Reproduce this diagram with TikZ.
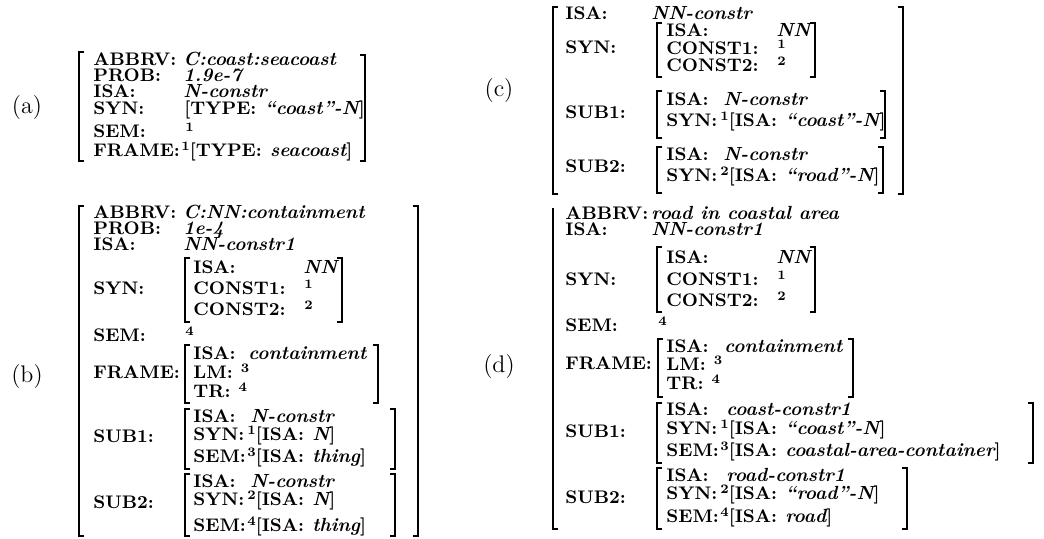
\documentclass[tikz,border=0pt]{standalone}
\begin{document}
\newcommand\tg[1]{\raisebox{0.7ex}{\fontsize{6.5}{7}\selectfont\bfseries\upshape #1}}
\newcommand\ti[1]{{\fontsize{9.5}{10}\selectfont\itshape #1}}
\newcommand\gp{\hspace{0.45em}}
\newcommand\Lbr[3]{\draw[brk] ({#1+5},#2) -- (#1,#2) -- (#1,#3) -- ({#1+5},#3);}
\newcommand\Rbr[3]{\draw[brk] ({#1-5},#2) -- (#1,#2) -- (#1,#3) -- ({#1-5},#3);}
\begin{tikzpicture}[x=0.5pt,y=-0.5pt,
  brk/.style={line width=1.3pt},
  lab/.style={anchor=base west, inner sep=0pt, font=\fontsize{9.1}{10}\selectfont\bfseries},
  val/.style={anchor=base west, inner sep=0pt, font=\fontsize{9.5}{10}\selectfont\bfseries\itshape},
  tagl/.style={anchor=center, inner sep=0pt, font=\fontsize{12}{14}\selectfont}]
\useasboundingbox (0,0) rectangle (1044,538);
% ---------------- (a)
\node[tagl] (la) at (27,108) {(a)};
\Lbr{79}{52}{161} \Rbr{365}{55}{161}
\node[lab] (a1) at (93,65) {ABBRV:}; \node[val] (a1v) at (183,65) {C:coast:seacoast};
\node[lab] (a2) at (93,81) {PROB:}; \node[val] (a2v) at (183,81) {1.9e-7};
\node[lab] (a3) at (93,97) {ISA:}; \node[val] (a3v) at (183,97) {N-constr};
\node[lab] (a4) at (93,114) {SYN:}; \node[lab] (a4v) at (184,114) {[TYPE:\gp\ti{“coast”-N}]};
\node[lab] (a5) at (93,137) {SEM:}; \node[lab] (a5v) at (185,137) {\tg{1}};
\node[lab] (a6) at (93,156) {FRAME:}; \node[lab] (a6v) at (181,156) {\tg{1}[TYPE:\gp\ti{seacoast}]};
% ---------------- (b)
\node[tagl] (lb) at (27,376) {(b)};
\Lbr{79}{206}{536} \Rbr{418}{206}{536}
\node[lab] (b1) at (93,218) {ABBRV:}; \node[val] (b1v) at (183,218) {C:NN:containment};
\node[lab] (b2) at (93,234) {PROB:}; \node[val] (b2v) at (183,234) {1e-4};
\node[lab] (b3) at (93,250) {ISA:}; \node[val] (b3v) at (183,250) {NN-constr1};
\node[lab] (b4) at (93,294) {SYN:};
\Lbr{185}{258}{322} \Rbr{342}{258}{322}
\node[lab] (b41) at (193,273) {ISA:}; \node[val] (b41v) at (303,273) {NN};
\node[lab] (b42) at (193,294) {CONST1:}; \node[lab] (b42v) at (304,294) {\tg{1}};
\node[lab] (b43) at (193,315) {CONST2:}; \node[lab] (b43v) at (304,315) {\tg{2}};
\node[lab] (b5) at (93,341) {SEM:}; \node[lab] (b5v) at (185,341) {\tg{4}};
\node[lab] (b6) at (93,378) {FRAME:};
\Lbr{185}{345}{403} \Rbr{378}{345}{403}
\node[lab] (b61) at (193,359) {ISA:}; \node[val] (b61v) at (248,359) {containment};
\node[lab] (b62) at (193,378) {LM:\gp\tg{3}};
\node[lab] (b63) at (193,397) {TR:\gp\tg{4}};
\node[lab] (b7) at (93,442) {SUB1:};
\Lbr{185}{409}{469} \Rbr{395}{409}{469}
\node[lab] (b71) at (193,422) {ISA:}; \node[val] (b71v) at (250,422) {N-constr};
\node[lab] (b72) at (193,440) {SYN:}; \node[lab] (b72v) at (247,440) {\tg{1}[ISA:\gp\ti{N}]};
\node[lab] (b73) at (193,462) {SEM:}; \node[lab] (b73v) at (247,462) {\tg{3}[ISA:\gp\ti{thing}]};
\node[lab] (b8) at (93,508) {SUB2:};
\Lbr{185}{474}{536} \Rbr{395}{474}{536}
\node[lab] (b81) at (193,487) {ISA:}; \node[val] (b81v) at (250,487) {N-constr};
\node[lab] (b82) at (193,505) {SYN:}; \node[lab] (b82v) at (247,505) {\tg{2}[ISA:\gp\ti{N}]};
\node[lab] (b83) at (193,531) {SEM:}; \node[lab] (b83v) at (247,531) {\tg{4}[ISA:\gp\ti{thing}]};
% ---------------- (c)
\node[tagl] (lc) at (499,91) {(c)};
\Lbr{553}{7}{194} \Rbr{903}{7}{194}
\node[lab] (c1) at (565,19) {ISA:}; \node[val] (c1v) at (651,19) {NN-constr};
\node[lab] (c2) at (565,53) {SYN:};
\Lbr{657}{23}{77} \Rbr{815}{23}{77}
\node[lab] (c21) at (666,36) {ISA:}; \node[val] (c21v) at (776,36) {NN};
\node[lab] (c22) at (666,54) {CONST1:}; \node[lab] (c22v) at (777,54) {\tg{1}};
\node[lab] (c23) at (666,71) {CONST2:}; \node[lab] (c23v) at (777,71) {\tg{2}};
\node[lab] (c3) at (565,118) {SUB1:};
\Lbr{657}{91}{138} \Rbr{885}{91}{138}
\node[lab] (c31) at (666,105) {ISA:}; \node[val] (c31v) at (723,105) {N-constr};
\node[lab] (c32) at (666,126) {SYN:}; \node[lab] (c32v) at (720,126) {\tg{1}[ISA:\gp\ti{“coast”-N}]};
\node[lab] (c4) at (565,172) {SUB2:};
\Lbr{657}{147}{193} \Rbr{883}{147}{193}
\node[lab] (c41) at (666,160) {ISA:}; \node[val] (c41v) at (723,160) {N-constr};
\node[lab] (c42) at (666,181) {SYN:}; \node[lab] (c42v) at (720,181) {\tg{2}[ISA:\gp\ti{“road”-N}]};
% ---------------- (d)
\node[tagl] (ld) at (499,366) {(d)};
\draw[brk] (553,208) -- (553,529) -- (558,529);
\node[lab] (d1) at (565,219) {ABBRV:}; \node[val] (d1v) at (651,219) {road in coastal area};
\node[lab] (d2) at (565,235) {ISA:}; \node[val] (d2v) at (651,235) {NN-constr1};
\node[lab] (d3) at (565,285) {SYN:};
\Lbr{657}{247}{312} \Rbr{815}{247}{312}
\node[lab] (d31) at (666,263) {ISA:}; \node[val] (d31v) at (776,263) {NN};
\node[lab] (d32) at (666,285) {CONST1:}; \node[lab] (d32v) at (777,285) {\tg{1}};
\node[lab] (d33) at (666,306) {CONST2:}; \node[lab] (d33v) at (777,306) {\tg{2}};
\node[lab] (d4) at (565,331) {SEM:}; \node[lab] (d4v) at (658,331) {\tg{4}};
\node[lab] (d5) at (565,369) {FRAME:};
\Lbr{658}{339}{397} \Rbr{853}{339}{397}
\node[lab] (d51) at (666,352) {ISA:}; \node[val] (d51v) at (724,352) {containment};
\node[lab] (d52) at (666,370) {LM:\gp\tg{3}};
\node[lab] (d53) at (666,389) {TR:\gp\tg{4}};
\node[lab] (d6) at (565,437) {SUB1:};
\Lbr{657}{403}{463} \Rbr{1033}{403}{463}
\node[lab] (d61) at (666,415) {ISA:}; \node[val] (d61v) at (726,415) {coast-constr1};
\node[lab] (d62) at (666,434) {SYN:}; \node[lab] (d62v) at (720,434) {\tg{1}[ISA:\gp\ti{“coast”-N}]};
\node[lab] (d63) at (666,456) {SEM:}; \node[lab] (d63v) at (720,456) {\tg{3}[ISA:\gp\ti{coastal-area-container}]};
\node[lab] (d7) at (565,503) {SUB2:};
\Lbr{657}{468}{529} \Rbr{907}{468}{529}
\node[lab] (d71) at (666,481) {ISA:}; \node[val] (d71v) at (726,481) {road-constr1};
\node[lab] (d72) at (666,499) {SYN:}; \node[lab] (d72v) at (720,499) {\tg{2}[ISA:\gp\ti{“road”-N}]};
\node[lab] (d73) at (666,522) {SEM:}; \node[lab] (d73v) at (720,522) {\tg{4}[ISA:\gp\ti{road}]};
\end{tikzpicture}
\end{document}
